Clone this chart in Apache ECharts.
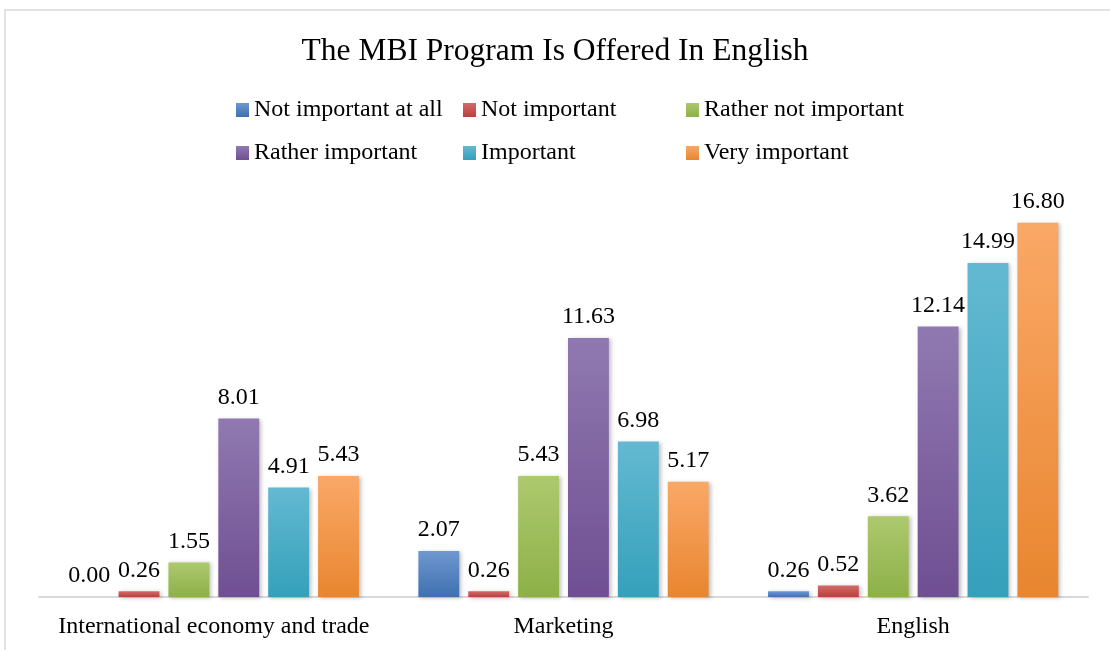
<!DOCTYPE html>
<html>
<head>
<meta charset="utf-8">
<script src="https://cdn.jsdelivr.net/npm/echarts@6/dist/echarts.min.js"></script>
<style>
  html, body { margin: 0; padding: 0; background: #fff; }
  #main { width: 1110px; height: 650px; }
</style>
</head>
<body>
<div id="main"></div>
<script>
const categories = ['International economy and trade', 'Marketing', 'English']
const seriesNames = ['Not important at all', 'Not important', 'Rather not important', 'Rather important', 'Important', 'Very important']
const notImportantAtAll = [0.00, 2.07, 0.26]
const notImportant = [0.26, 0.26, 0.52]
const ratherNotImportant = [1.55, 5.43, 3.62]
const ratherImportant = [8.01, 11.63, 12.14]
const important = [4.91, 6.98, 14.99]
const veryImportant = [5.43, 5.17, 16.80]

const values = [notImportantAtAll, notImportant, ratherNotImportant, ratherImportant, important, veryImportant]
// top / bottom colours of each bar gradient
const shades = [
  ['#6f98cf', '#3f70b0'],
  ['#d46a67', '#b8413e'],
  ['#adc96e', '#8db048'],
  ['#9079b0', '#6f4f92'],
  ['#63b9d1', '#35a0bb'],
  ['#faa867', '#e8862f'],
]
const font = '"Liberation Serif", "Times New Roman", serif'

let chart = echarts.init(document.getElementById('main'))

const series = seriesNames.map((name, i) => ({
  name: name,
  type: 'bar',
  data: values[i],
  barGap: '22%',
  barCategoryGap: '17%',
  itemStyle: {
    color: new echarts.graphic.LinearGradient(0, 0, 0, 1, [
      { offset: 0, color: shades[i][0] },
      { offset: 1, color: shades[i][1] },
    ]),
    shadowColor: 'rgba(0,0,0,0.25)',
    shadowBlur: 4,
    shadowOffsetX: 2,
    shadowOffsetY: 1,
  },
  label: {
    show: true,
    position: 'top',
    distance: 9,
    color: '#000',
    fontFamily: font,
    fontSize: 24,
    formatter: p => p.value.toFixed(2),
  },
}))

const legendBase = {
  orient: 'vertical',
  top: 98,
  padding: 0,
  itemWidth: 13,
  itemHeight: 14,
  itemGap: 19,
  icon: 'rect',
  textStyle: { fontFamily: font, fontSize: 24, color: '#000', lineHeight: 24 },
}

chart.setOption({
  animation: false,
  backgroundColor: '#fff',
  title: {
    text: 'The MBI Program Is Offered In English',
    left: 'center',
    top: 31,
    textStyle: { fontFamily: font, fontSize: 31.5, fontWeight: 'normal', color: '#000' },
  },
  legend: [
    Object.assign({}, legendBase, { left: 236, data: [seriesNames[0], seriesNames[3]] }),
    Object.assign({}, legendBase, { left: 463, data: [seriesNames[1], seriesNames[4]] }),
    Object.assign({}, legendBase, { left: 686, data: [seriesNames[2], seriesNames[5]] }),
  ],
  grid: { left: 39, right: 22, top: 196, bottom: 53 },
  xAxis: {
    type: 'category',
    data: categories,
    axisLine: { lineStyle: { color: '#d9d9d9', width: 2 } },
    axisTick: { show: false },
    axisLabel: { interval: 0, fontFamily: font, fontSize: 24, color: '#000', margin: 18 },
  },
  yAxis: {
    type: 'value',
    min: 0,
    max: 18,
    show: false,
    splitLine: { show: false },
  },
  graphic: [{
    type: 'rect',
    shape: { x: 5, y: 10, width: 1120, height: 660 },
    style: { fill: 'none', stroke: '#d9d9d9', lineWidth: 1.5 },
    silent: true,
  }],
  series: series,
})
</script>
</body>
</html>
